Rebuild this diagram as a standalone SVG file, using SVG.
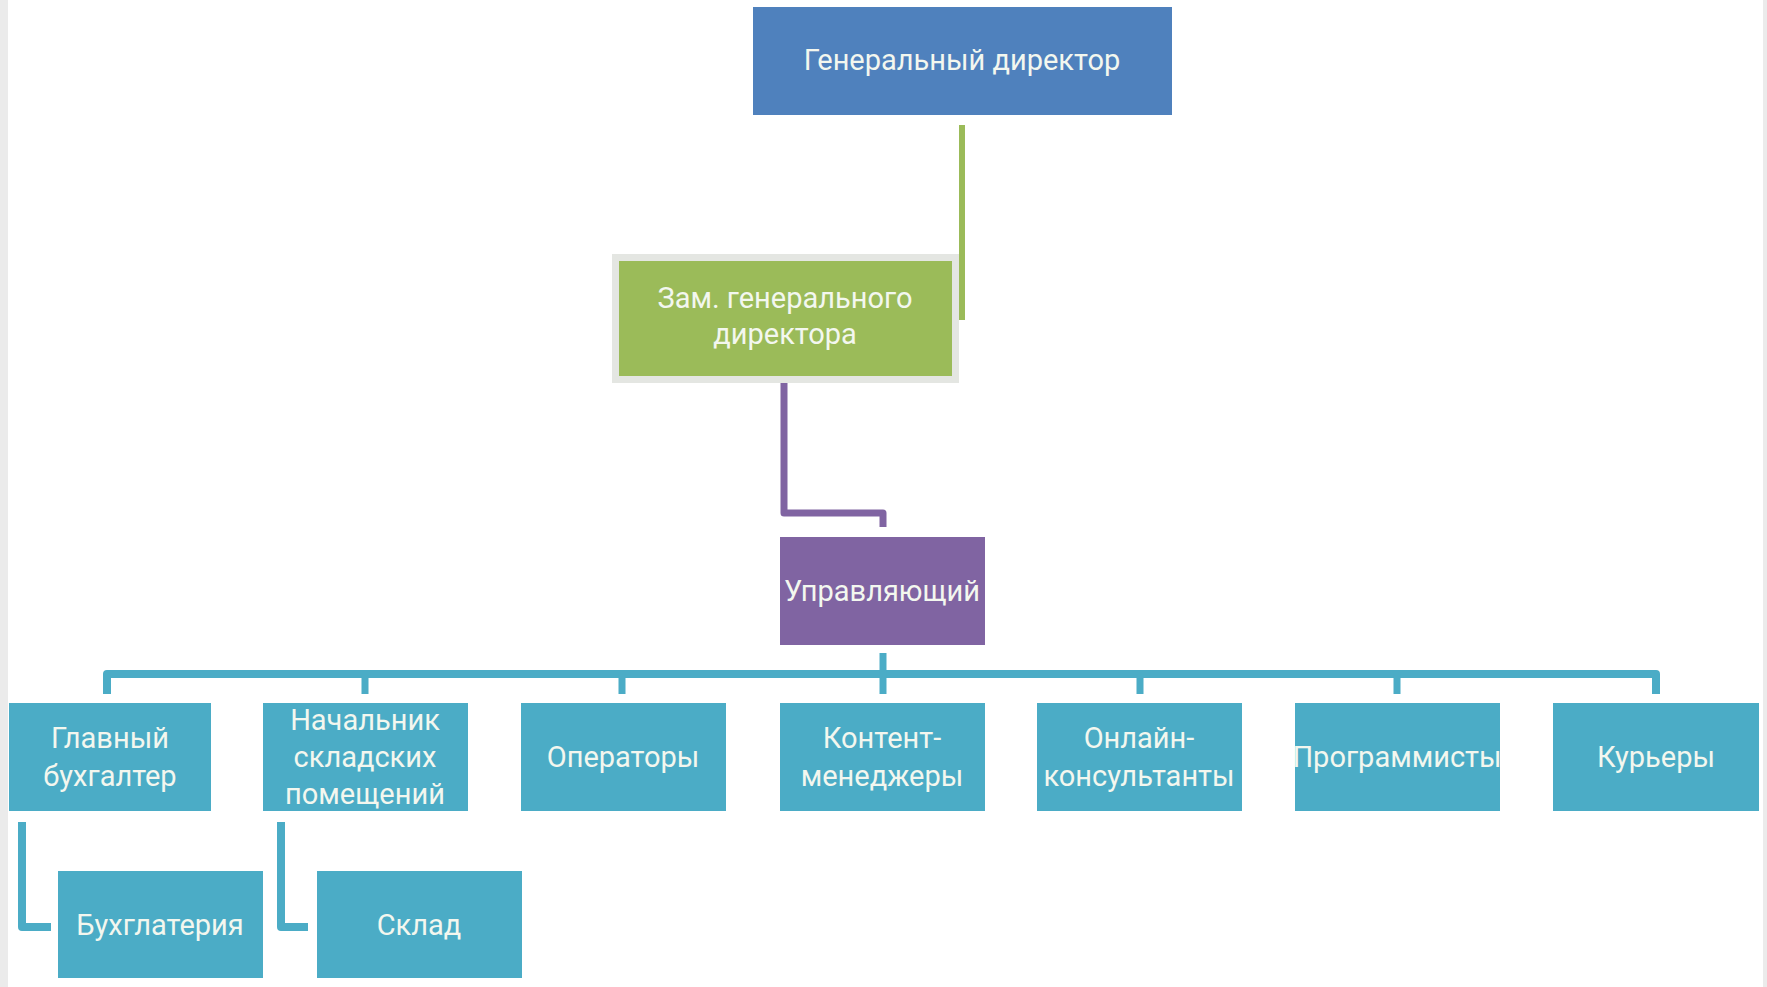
<svg xmlns="http://www.w3.org/2000/svg" width="1767" height="987" viewBox="0 0 1767 987">
<style>
.t{font-family:Roboto,"Liberation Sans","DejaVu Sans",sans-serif;font-size:29px;fill:#F3F7EF;text-anchor:middle}
.teal{fill:#4BACC6}
.c{fill:none;stroke-linejoin:round;stroke-linecap:butt}
</style>
<rect x="0" y="0" width="1767" height="987" fill="#FFFFFF"/>
<rect x="0" y="0" width="8" height="987" fill="#EBEBEB"/>
<rect x="1763" y="0" width="4" height="987" fill="#EBEBEB"/>
<g id="connectors">
<path class="c" d="M962,125 V320" stroke="#9BBB59" stroke-width="6" stroke-linecap="round"/>
<path class="c" d="M784,383 V513 H883 V527" stroke="#8064A2" stroke-width="7"/>
<path class="c" d="M107,694 V674 H1656 V694" stroke="#4BACC6" stroke-width="8"/>
<path class="c" d="M883,653 V694" stroke="#4BACC6" stroke-width="7"/>
<path class="c" d="M365,674 V694 M622,674 V694 M1140,674 V694 M1397,674 V694" stroke="#4BACC6" stroke-width="7"/>
<path class="c" d="M22,822 V927 H51" stroke="#4BACC6" stroke-width="8"/>
<path class="c" d="M281,822 V927 H308" stroke="#4BACC6" stroke-width="8"/>
</g>
<g id="gen-director">
<rect x="753" y="7" width="419" height="108" fill="#4F81BD"/>
<text class="t" x="962" y="70">Генеральный директор</text>
</g>
<g id="deputy">
<rect x="615.5" y="257.5" width="340" height="122" fill="#9BBB59" stroke="#E4E6E2" stroke-width="7"/>
<text class="t" x="785" y="308">Зам. генерального</text>
<text class="t" x="785" y="344">директора</text>
</g>
<g id="manager">
<rect x="780" y="537" width="205" height="108" fill="#8064A2"/>
<text class="t" x="882" y="601">Управляющий</text>
</g>
<g id="chief-accountant">
<rect class="teal" x="9" y="703" width="202" height="108"/>
<text class="t" x="110" y="748">Главный</text>
<text class="t" x="110" y="786">бухгалтер</text>
</g>
<g id="warehouse-head">
<rect class="teal" x="263" y="703" width="205" height="108"/>
<text class="t" x="365" y="730">Начальник</text>
<text class="t" x="365" y="767">складских</text>
<text class="t" x="365" y="804">помещений</text>
</g>
<g id="operators">
<rect class="teal" x="521" y="703" width="205" height="108"/>
<text class="t" x="623" y="767">Операторы</text>
</g>
<g id="content-managers">
<rect class="teal" x="780" y="703" width="205" height="108"/>
<text class="t" x="882" y="748">Контент-</text>
<text class="t" x="882" y="786">менеджеры</text>
</g>
<g id="online-consultants">
<rect class="teal" x="1037" y="703" width="205" height="108"/>
<text class="t" x="1139" y="748">Онлайн-</text>
<text class="t" x="1139" y="786">консультанты</text>
</g>
<g id="programmers">
<rect class="teal" x="1295" y="703" width="205" height="108"/>
<text class="t" x="1397" y="767">Программисты</text>
</g>
<g id="couriers">
<rect class="teal" x="1553" y="703" width="206" height="108"/>
<text class="t" x="1656" y="767">Курьеры</text>
</g>
<g id="accounting">
<rect class="teal" x="58" y="871" width="205" height="107"/>
<text class="t" x="160" y="935">Бухглатерия</text>
</g>
<g id="warehouse">
<rect class="teal" x="317" y="871" width="205" height="107"/>
<text class="t" x="419" y="935">Склад</text>
</g>
</svg>
